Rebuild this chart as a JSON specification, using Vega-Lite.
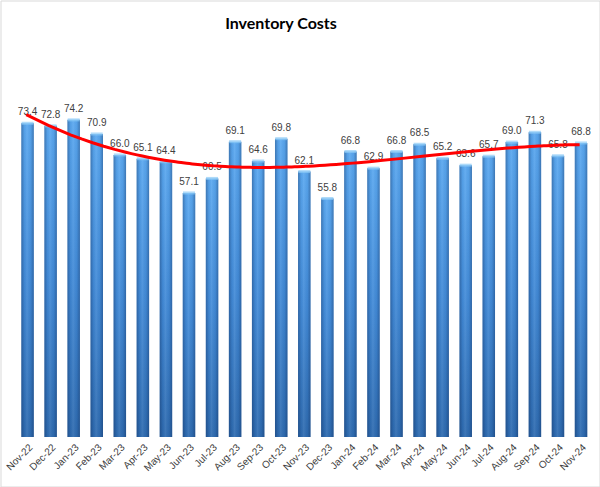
{
  "$schema": "https://vega.github.io/schema/vega-lite/v6.json",
  "width": 599,
  "height": 486,
  "autosize": {"type": "none"},
  "padding": {"left": 0.5, "top": 0.5, "right": 0.5, "bottom": 0.5},
  "background": "white",
  "config": {"view": {"stroke": "#d9d9d9", "strokeWidth": 1}},
  "title": {
    "text": "Inventory Costs",
    "font": "Lato",
    "fontSize": 16,
    "fontWeight": "bold",
    "color": "#000000",
    "anchor": "middle",
    "frame": "group",
    "baseline": "alphabetic",
    "offset": -44.5,
    "dx": -19
  },
  "data": {
    "values": [
      {"month": "Nov-22", "i": 1, "value": 73.4},
      {"month": "Dec-22", "i": 2, "value": 72.8},
      {"month": "Jan-23", "i": 3, "value": 74.2},
      {"month": "Feb-23", "i": 4, "value": 70.9},
      {"month": "Mar-23", "i": 5, "value": 66.0},
      {"month": "Apr-23", "i": 6, "value": 65.1},
      {"month": "May-23", "i": 7, "value": 64.4},
      {"month": "Jun-23", "i": 8, "value": 57.1},
      {"month": "Jul-23", "i": 9, "value": 60.5},
      {"month": "Aug-23", "i": 10, "value": 69.1},
      {"month": "Sep-23", "i": 11, "value": 64.6},
      {"month": "Oct-23", "i": 12, "value": 69.8},
      {"month": "Nov-23", "i": 13, "value": 62.1},
      {"month": "Dec-23", "i": 14, "value": 55.8},
      {"month": "Jan-24", "i": 15, "value": 66.8},
      {"month": "Feb-24", "i": 16, "value": 62.9},
      {"month": "Mar-24", "i": 17, "value": 66.8},
      {"month": "Apr-24", "i": 18, "value": 68.5},
      {"month": "May-24", "i": 19, "value": 65.2},
      {"month": "Jun-24", "i": 20, "value": 63.6},
      {"month": "Jul-24", "i": 21, "value": 65.7},
      {"month": "Aug-24", "i": 22, "value": 69.0},
      {"month": "Sep-24", "i": 23, "value": 71.3},
      {"month": "Oct-24", "i": 24, "value": 65.8},
      {"month": "Nov-24", "i": 25, "value": 68.8}
    ]
  },
  "resolve": {"scale": {"x": "independent"}, "axis": {"x": "independent"}},
  "layer": [
    {
      "layer": [
        {
          "mark": {
            "type": "bar",
            "color": {
              "gradient": "linear",
              "x1": 0, "y1": 0, "x2": 0, "y2": 1,
              "stops": [
                {"offset": 0, "color": "#5aa8f0"},
                {"offset": 0.5, "color": "#428bd8"},
                {"offset": 1, "color": "#2e6bb0"}
              ]
            }
          },
          "encoding": {}
        },
        {
          "mark": {
            "type": "bar",
            "color": {
              "gradient": "linear",
              "x1": 0, "y1": 0, "x2": 1, "y2": 0,
              "stops": [
                {"offset": 0, "color": "rgba(10,30,70,0.35)"},
                {"offset": 0.25, "color": "rgba(10,30,70,0.05)"},
                {"offset": 0.45, "color": "rgba(255,255,255,0.08)"},
                {"offset": 0.75, "color": "rgba(10,30,70,0.05)"},
                {"offset": 1, "color": "rgba(10,30,70,0.35)"}
              ]
            }
          },
          "encoding": {}
        },
        {
          "mark": {"type": "tick", "color": "#8ccaf6", "thickness": 3, "size": 12},
          "encoding": {}
        },
        {
          "mark": {"type": "text", "font": "Liberation Sans", "fontSize": 10, "color": "#404040", "baseline": "alphabetic", "dy": -8},
          "encoding": {"text": {"field": "value", "type": "quantitative", "format": ".1f"}}
        }
      ],
      "encoding": {
        "x": {
          "field": "month",
          "type": "ordinal",
          "sort": null,
          "scale": {"paddingInner": 0.458, "paddingOuter": 0.7165, "align": 0.63},
          "axis": {
            "title": null,
            "domain": false,
            "ticks": false,
            "labelAngle": -45,
            "labelFont": "Liberation Sans",
            "labelFontSize": 10,
            "labelColor": "#404040",
            "labelPadding": 5,
            "offset": -49.5
          }
        },
        "y": {
          "field": "value",
          "type": "quantitative",
          "scale": {"domain": [-11.58, 102.13], "nice": false, "zero": false},
          "axis": null
        }
      }
    },
    {
      "transform": [{"regression": "value", "on": "i", "method": "poly", "order": 3}],
      "mark": {"type": "line", "color": "#ff0000", "strokeWidth": 3},
      "encoding": {
        "x": {"field": "i", "type": "quantitative", "scale": {"domain": [-0.1145, 25.861], "nice": false, "zero": false}, "axis": null},
        "y": {"field": "value", "type": "quantitative", "scale": {"domain": [-11.58, 102.13], "nice": false, "zero": false}, "axis": null}
      }
    }
  ]
}
